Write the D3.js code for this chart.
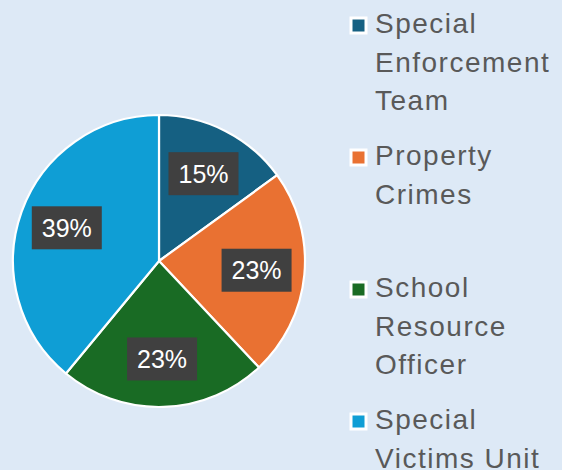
<!DOCTYPE html>
<html><head><meta charset="utf-8">
<script src="https://cdn.jsdelivr.net/npm/d3@7"></script>
<style>
html,body{margin:0;padding:0;background:#dde9f6;}
svg{display:block;}
</style></head>
<body>
<script>
const categories = ["Special Enforcement Team", "Property Crimes", "School Resource Officer", "Special Victims Unit"];
const legendLines = [["Special","Enforcement","Team"],["Property","Crimes"],["School","Resource","Officer"],["Special","Victims Unit"]];
const values = [15, 23, 23, 39];
const colors = ["#156082", "#e97132", "#196b24", "#0f9ed5"];

const W = 562, H = 470;
const svg = d3.select("body").append("svg").attr("width", W).attr("height", H);
svg.append("rect").attr("width", W).attr("height", H).attr("fill", "#dde9f6");

const cx = 159, cy = 261, R = 146;
const pie = d3.pie().sort(null).value(d => d)(values);
const arc = d3.arc().innerRadius(0).outerRadius(R);
const labelArc = d3.arc().innerRadius(98).outerRadius(98);
const total = d3.sum(values);

const g = svg.append("g").attr("transform", `translate(${cx},${cy})`);
g.selectAll("path").data(pie).join("path")
  .attr("d", arc).attr("fill", (d,i) => colors[i])
  .attr("stroke", "#fff").attr("stroke-width", 2.2).attr("stroke-linejoin","round");

const fmt = d => Math.round(d.value / total * 100) + "%";
const lab = g.selectAll("g.lab").data(pie).join("g").attr("class","lab")
  .attr("transform", d => `translate(${labelArc.centroid(d)})`);
lab.append("rect").attr("x", -35).attr("y", -21.5).attr("width", 70).attr("height", 43).attr("fill", "#404040");
lab.append("text").attr("text-anchor","middle").attr("dy", "0.36em")
  .attr("font-family", "Liberation Sans, Arial, sans-serif").attr("font-size", 25)
  .attr("fill", "#fff").text(fmt);

// legend
const lg = svg.append("g");
const item = lg.selectAll("g").data(categories).join("g")
  .attr("transform", (d,i) => `translate(0,${33 + i*132})`);
item.append("rect").attr("x", 351).attr("y", -15).attr("width", 15).attr("height", 15)
  .attr("fill", (d,i) => colors[i]).attr("stroke", "#fff").attr("stroke-width", 3);
item.each(function(d,i){
  const t = d3.select(this).append("text").attr("x", 375)
    .attr("font-family", "Liberation Sans, Arial, sans-serif").attr("font-size", 28)
    .attr("fill", "#595959").attr("letter-spacing", 1.5);
  legendLines[i].forEach((l,j) => t.append("tspan").attr("x", 375).attr("y", j*38.5).text(l));
});
</script>
</body></html>
